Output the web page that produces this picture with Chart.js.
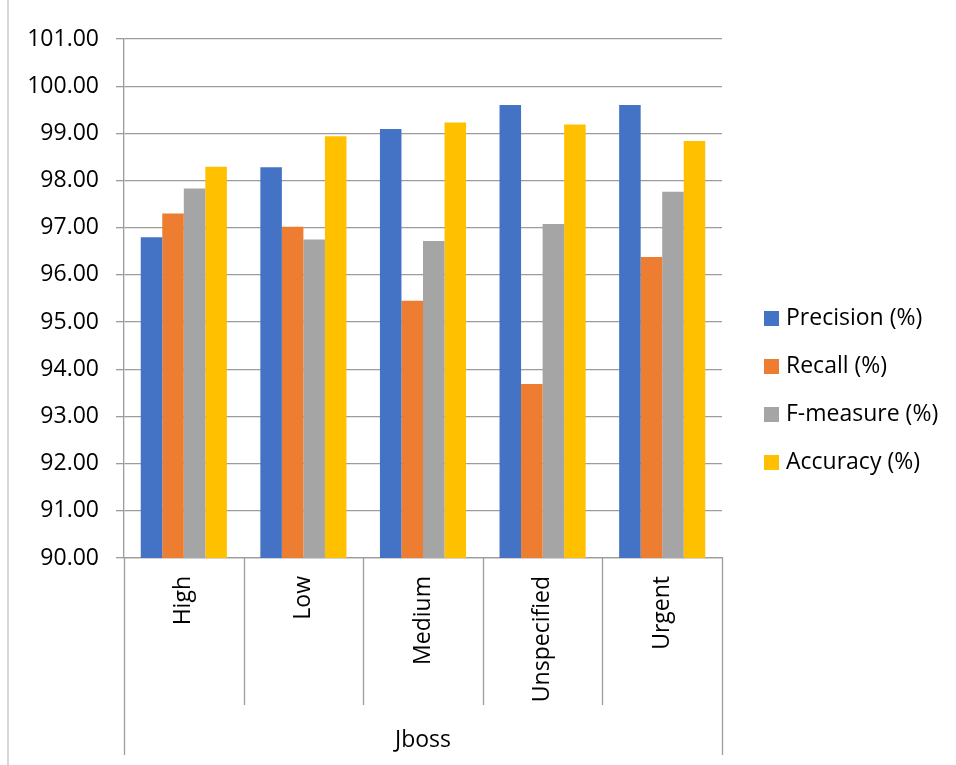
<!DOCTYPE html>
<html>
<head>
<meta charset="utf-8">
<script src="https://cdn.jsdelivr.net/npm/chart.js@4"></script>
<style>
html,body{margin:0;padding:0;background:#fff;}
#wrap{width:956px;height:765px;position:relative;}
</style>
</head>
<body>
<div id="wrap"><canvas id="c" width="956" height="765"></canvas></div>
<script>
const categories = ["High", "Low", "Medium", "Unspecified", "Urgent"];
const groupLabel = "Jboss";
const precision = [96.80, 98.28, 99.09, 99.60, 99.60];
const recall    = [97.30, 97.02, 95.45, 93.69, 96.38];
const fmeasure  = [97.83, 96.75, 96.72, 97.08, 97.76];
const accuracy  = [98.29, 98.94, 99.23, 99.19, 98.84];
const seriesNames = ["Precision (%)", "Recall (%)", "F-measure (%)", "Accuracy (%)"];
const yMin = 90, yMax = 101, yStep = 1;

const FONT = "'Open Sans', 'DejaVu Sans', sans-serif";
const LINE = '#9c9c9c';

const frame = {
  id: 'frame',
  beforeDraw(chart) {
    const ctx = chart.ctx;
    ctx.save();
    ctx.strokeStyle = '#c8c8c8';
    ctx.lineWidth = 1.5;
    ctx.beginPath();
    ctx.moveTo(8, 0); ctx.lineTo(8, chart.height);
    ctx.stroke();
    ctx.restore();
  },
  afterDraw(chart) {
    const ctx = chart.ctx;
    const x = chart.scales.x;
    const area = chart.chartArea;
    const n = categories.length;
    const half = (x.getPixelForValue(1) - x.getPixelForValue(0)) / 2;
    ctx.save();
    ctx.strokeStyle = LINE;
    ctx.lineWidth = 1.3;
    for (let i = 0; i <= n; i++) {
      const px = Math.round(x.getPixelForValue(i) - half) + 0.5;
      const bottom = (i === 0 || i === n) ? 755 : 705;
      ctx.beginPath();
      ctx.moveTo(px, area.bottom);
      ctx.lineTo(px, bottom);
      ctx.stroke();
    }
    ctx.fillStyle = '#000';
    ctx.font = '23px ' + FONT;
    ctx.textAlign = 'center';
    ctx.textBaseline = 'middle';
    ctx.fillText(groupLabel, (area.left + area.right) / 2, 740);
    // legend
    const ds = chart.data.datasets;
    const lx = area.right + 42;
    const cy = chart.height / 2 + 8;
    ds.forEach((d, i) => {
      const y = cy + (i - (ds.length - 1) / 2) * 48;
      ctx.fillStyle = d.backgroundColor;
      ctx.fillRect(lx, y - 7.5, 15, 15);
      ctx.fillStyle = '#000';
      ctx.textAlign = 'left';
      ctx.fillText(d.label, lx + 22, y);
    });
    ctx.restore();
  }
};

new Chart(document.getElementById('c'), {
  type: 'bar',
  data: {
    labels: categories,
    datasets: [
      { label: seriesNames[0], data: precision, backgroundColor: '#4472C4' },
      { label: seriesNames[1], data: recall,    backgroundColor: '#ED7D31' },
      { label: seriesNames[2], data: fmeasure,  backgroundColor: '#A5A5A5' },
      { label: seriesNames[3], data: accuracy,  backgroundColor: '#FFC000' }
    ]
  },
  options: {
    responsive: false,
    animation: false,
    layout: { padding: { top: 39, left: 0, right: 234, bottom: 7 } },
    datasets: { bar: { categoryPercentage: 0.72, barPercentage: 1.0 } },
    plugins: { legend: { display: false }, tooltip: { enabled: false } },
    scales: {
      x: {
        grid: { display: false },
        border: { display: true, color: LINE, width: 1.3 },
        ticks: { color: '#000', font: { family: FONT, size: 23 }, minRotation: 90, maxRotation: 90, padding: 10 },
        afterFit(s) { s.height = 200; }
      },
      y: {
        min: yMin, max: yMax,
        grid: { color: LINE, lineWidth: 1.3, tickLength: 8 },
        border: { display: true, color: LINE, width: 1.3 },
        ticks: { stepSize: yStep, color: '#000', font: { family: FONT, size: 23 }, padding: 17,
          callback: v => Number(v).toFixed(2) },
        afterFit(s) { s.width = 124; }
      }
    }
  },
  plugins: [frame]
});
</script>
</body>
</html>
